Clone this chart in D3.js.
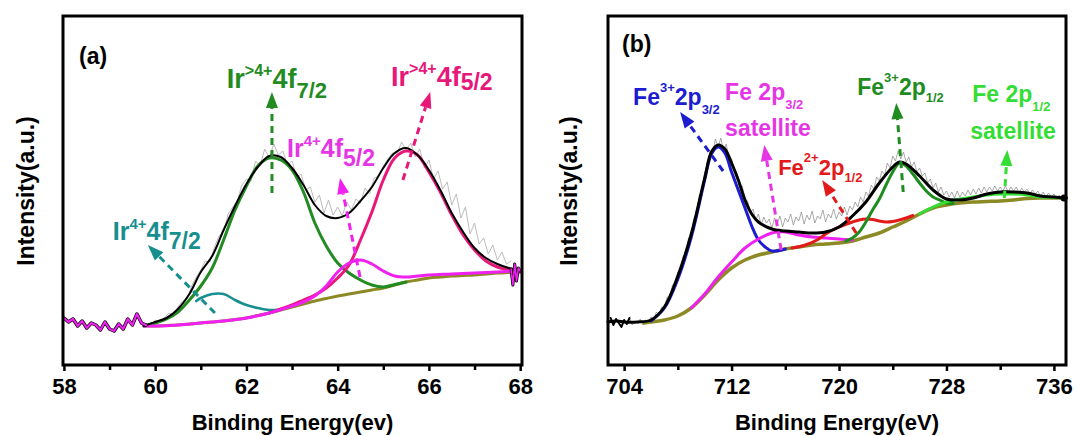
<!DOCTYPE html>
<html><head><meta charset="utf-8">
<title>XPS Ir 4f / Fe 2p</title>
<script src="https://cdn.jsdelivr.net/npm/d3@7/dist/d3.min.js"></script>
<style>
body { margin: 0; background: white; }
svg { display: block; font-family: "Liberation Sans", Arial, sans-serif; font-weight: bold; }
</style>
</head><body>
<svg id="chart" width="1077" height="436"></svg>

<script>
// ---------- panel (a): Ir 4f, intensity in arbitrary units ----------
var ticksA = [58, 60, 62, 64, 66, 68];
var minorA = [59, 61, 63, 65, 67];

var rawA = [
[59.8,41],[59.9,38],[60,45],[60.1,43],[60.2,47],[60.3,52],[60.4,50],[60.5,58],[60.6,64],[60.7,66],
[60.8,79],[60.9,88],[61,95],[61.1,104],[61.2,103],[61.3,118],[61.4,129],[61.5,133],[61.6,151],[61.7,158],
[61.8,164],[61.9,180],[62,186],[62.1,184],[62.2,204],[62.3,199],[62.4,216],[62.5,207],[62.6,221],[62.7,210],
[62.8,214],[62.9,200],[63,204],[63.1,188],[63.2,191],[63.3,175],[63.4,178],[63.5,163],[63.6,170],[63.7,152],
[63.8,165],[63.9,150],[64,158],[64.1,149],[64.2,163],[64.3,155],[64.4,166],[64.5,162],[64.6,177],[64.7,171],
[64.8,187],[64.9,189],[65,199],[65.1,206],[65.2,212],[65.3,211],[65.4,223],[65.5,215],[65.6,222],[65.7,208],
[65.8,216],[65.9,197],[66,205],[66.1,186],[66.2,194],[66.3,176],[66.4,183],[66.5,160],[66.6,171],[66.7,147],
[66.8,158],[66.9,131],[67,142],[67.1,121],[67.2,127],[67.3,111],[67.4,120],[67.5,105],[67.6,113],[67.7,101],
[67.8,104]
];
// raw counts outside the fitted window
var edgeA = [
[58,47],[58.1,43],[58.2,46],[58.3,39],[58.4,44],[58.5,37],[58.6,42],[58.7,40],[58.8,35],[58.9,43],
[59,36],[59.1,34],[59.2,41],[59.3,36],[59.4,46],[59.5,40],[59.6,51],[59.7,42],[59.8,40]
];
var tailA = [[67.8,96],[67.84,80],[67.88,101],[67.92,84],[67.96,97],[68,94]];
var bgA = [
[59.75,39],[60,39],[60.25,39.5],[60.5,40],[60.75,41],[61,42],[61.25,43],[61.5,44],[61.75,45.5],[62,47],
[62.25,49.5],[62.5,52],[62.75,55],[63,58],[63.25,61],[63.5,64],[63.75,66.5],[64,69],[64.25,71],[64.5,73],
[64.75,75],[65,77],[65.25,80],[65.5,83],[65.75,85],[66,87],[66.25,88],[66.5,89],[66.75,89.5],[67,90],
[67.25,91],[67.5,92],[67.75,92.5],[68,93]
];
var ir4f72A = [
[60.9,64],[61,67],[61.25,71],[61.5,71],[61.75,65],[62,60],[62.25,57],[62.5,55],[62.75,55.5]
];
var irHi4f72A = [
[59.75,39],[60,42],[60.25,46],[60.5,53],[60.75,65],[61,79],[61.25,97],[61.5,125],[61.75,155],[62,179],
[62.25,199],[62.5,207],[62.75,205],[63,195],[63.25,173],[63.5,142],[63.75,119],[64,102],[64.25,92],[64.5,85],
[64.75,80],[65,78],[65.25,80.5],[65.5,83]
];
var irHi4f52A = [
[62.5,52],[62.75,56],[63,60],[63.25,65],[63.5,70],[63.75,77],[64,87],[64.25,100],[64.5,125],[64.75,153],
[65,185],[65.25,207],[65.5,214],[65.75,210],[66,193],[66.25,173],[66.5,150],[66.75,130],[67,115],[67.25,104],
[67.5,98],[67.75,95],[68,93]
];
var ir4f52A = [
[59.75,39],[60,39],[60.5,40],[61,42],[61.5,44],[62,47],[62.5,52],[63,59],[63.25,63],[63.5,69],
[63.75,79],[64,93],[64.25,102],[64.5,105],[64.75,101],[65,94],[65.25,89],[65.5,88],[65.75,89],[66,90],
[66.5,91],[67,92],[67.5,93],[68,94]
];
var envA = [
[59.75,39],[60,43],[60.25,47],[60.5,56],[60.75,71],[61,93],[61.25,109],[61.5,135],[61.75,159],[62,181],
[62.25,198],[62.5,209],[62.75,208],[63,197],[63.25,180],[63.5,160],[63.75,149],[64,147],[64.25,152],[64.5,164],
[64.75,178],[65,197],[65.25,212],[65.5,217],[65.75,210],[66,195],[66.25,175],[66.5,152],[66.75,133],[67,117],
[67.25,107],[67.5,101],[67.75,97],[68,95]
];

// ---------- panel (b): Fe 2p ----------
var ticksB = [704, 712, 720, 728, 736];
var minorB = [708, 716, 724, 732];

var rawB = [
[703,47],[703.2,40],[703.4,46],[703.6,42],[703.8,38],[704,45],[704.2,41],[704.4,47],[704.6,40],[704.8,44],
[705,42],[705.2,46],[705.4,40],[705.6,45],[705.8,43],[706,48],[706.2,45],[706.4,53],[706.6,50],[706.8,58],
[707,57],[707.2,68],[707.4,67],[707.6,80],[707.8,81],[708,93],[708.2,95],[708.4,109],[708.6,112],[708.8,127],
[709,129],[709.2,147],[709.4,150],[709.6,170],[709.8,174],[710,193],[710.2,197],[710.4,214],[710.6,213],[710.8,226],
[711,218],[711.2,227],[711.4,214],[711.6,221],[711.8,207],[712,206],[712.2,193],[712.4,192],[712.6,178],[712.8,179],
[713,166],[713.2,164],[713.4,152],[713.6,156],[713.8,145],[714,151],[714.2,140],[714.4,148],[714.6,142],[714.8,146],
[715,137],[715.2,147],[715.4,141],[715.6,149],[715.8,138],[716,147],[716.2,143],[716.4,151],[716.6,140],[716.8,148],
[717,144],[717.2,153],[717.4,141],[717.6,150],[717.8,145],[718,154],[718.2,142],[718.4,149],[718.6,146],[718.8,155],
[719,143],[719.2,151],[719.4,147],[719.6,156],[719.8,146],[720,153],[720.2,149],[720.4,158],[720.6,150],[720.8,159],
[721,155],[721.2,163],[721.4,158],[721.6,168],[721.8,163],[722,173],[722.2,169],[722.4,180],[722.6,176],[722.8,188],
[723,184],[723.2,194],[723.4,190],[723.6,202],[723.8,197],[724,209],[724.2,204],[724.4,214],[724.6,206],[724.8,213],
[725,203],[725.2,208],[725.4,198],[725.6,203],[725.8,193],[726,197],[726.2,189],[726.4,192],[726.6,182],[726.8,186],
[727,177],[727.2,182],[727.4,173],[727.6,178],[727.8,170],[728,174],[728.2,168],[728.4,173],[728.6,167],[728.8,174],
[729,168],[729.2,173],[729.4,169],[729.6,175],[729.8,170],[730,176],[730.2,171],[730.4,177],[730.6,172],[730.8,178],
[731,173],[731.2,178],[731.4,174],[731.6,179],[731.8,174],[732,178],[732.2,174],[732.4,179],[732.6,173],[732.8,178],
[733,174],[733.2,178],[733.4,172],[733.6,177],[733.8,173],[734,176],[734.2,171],[734.4,175],[734.6,171],[734.8,174],
[735,169],[735.2,173],[735.4,168],[735.6,172],[735.8,168],[736,171],[736.2,167],[736.4,170],[736.6,166],[736.8,169]
];
var bgB = [
[705.5,42],[706,43],[707,45],[708,49],[709,57],[710,70],[711,85],[712,97],[713,105],[714,110],
[715,113],[716,116],[717,118],[718,120],[719,121],[720,122],[721,124],[722,128],[723,132],[724,138],
[725,144],[726,151],[727,157],[728,160],[729,162],[730,163],[731,163.5],[732,164],[733,165],[734,166.5],
[735,167],[736,167],[736.9,167]
];
var fe3p32B = [
[706,44],[707,57],[708,86],[709,128],[710,185],[710.5,211],[711,218],[711.5,212],[712,193],[712.5,175],
[713,157],[713.5,139],[714,125],[714.5,118],[715,114],[716,116]
];
var satP32B = [
[709,57],[710,71],[711,88],[712,103],[713,117],[714,126],[715,132],[715.5,133],[716,133],[717,130],
[718,128],[719,127],[720,126],[721,125]
];
var fe2p12B = [
[716.5,117],[717.5,120],[718.5,126],[719,131],[720,138],[721,143],[721.5,145],[722,146],[722.5,145.5],[723,144],
[723.5,143],[724,143.5],[724.5,145],[725,147],[725.5,149.5]
];
var fe3p12B = [
[720.5,124],[721,127],[721.5,133],[722,143],[722.5,155],[723,166],[723.5,180],[724,193],[724.5,202],[725,199],
[725.5,191],[726,182],[726.5,174],[727,168],[727.5,165],[728,162],[728.5,161.5]
];
var satP12B = [
[726,151],[727,158],[728,163],[729,166],[730,168],[731,170],[732,171],[733,171],[734,170],[735,168],
[736,167.5],[736.9,167]
];
var envB = [
[702.8,43],[703.5,44],[704,43],[705,43],[706,45],[707,58],[708,89],[709,131],[710,187],[710.5,213],
[711,220],[711.5,216],[712,202],[712.5,185],[713,165],[713.5,151],[714,143],[715,136],[716,134],[717,133],
[718,132],[719,133],[720,138],[721,149],[722,163],[723,182],[724,198],[724.5,203],[725,201],[726,189],
[727,175],[728,166],[729,165],[730,167],[731,171],[732,173],[733,173],[734,172],[735,169],[736,168],
[736.9,167]
];

// ---------- scales ----------
var svg = d3.select("#chart");
var yS = d3.scaleLinear().domain([0, 349]).range([365, 16]);
var xA = d3.scaleLinear().domain([57.98, 68.04]).range([63, 522]);
var xB = d3.scaleLinear().domain([702.8, 736.9]).range([608, 1066]);

function drawLine(g, x, data, color, width, smooth) {
	var line = d3.line().x(d => x(d[0])).y(d => yS(d[1]));
	if (smooth) line.curve(d3.curveCatmullRom.alpha(0.5));
	g.append("path").datum(data)
		.attr("d", line)
		.attr("fill", "none")
		.attr("stroke", color)
		.attr("stroke-width", width)
		.attr("stroke-linejoin", "round")
		.attr("stroke-linecap", "round");
}

function drawFrame(g, x, ticks, minor, title, ylabX) {
	var r = x.range();
	g.append("rect")
		.attr("x", r[0]).attr("y", yS.range()[1])
		.attr("width", r[1] - r[0]).attr("height", yS.range()[0] - yS.range()[1])
		.attr("fill", "none").attr("stroke", "#000").attr("stroke-width", 3);

	var ax = g.append("g").attr("transform", "translate(0," + yS.range()[0] + ")")
		.call(d3.axisBottom(x).tickValues(ticks).tickSize(6).tickPadding(7).tickFormat(d3.format("d")));
	ax.select(".domain").remove();
	ax.selectAll("line").attr("stroke-width", 2.5);
	ax.selectAll("text").style("font-size", "22px").attr("fill", "#000");

	var mx = g.append("g").attr("transform", "translate(0," + yS.range()[0] + ")")
		.call(d3.axisBottom(x).tickValues(minor).tickSize(5).tickFormat(""));
	mx.select(".domain").remove();
	mx.selectAll("line").attr("stroke-width", 2.5);

	g.append("text")
		.attr("x", (r[0] + r[1]) / 2).attr("y", 430)
		.attr("text-anchor", "middle").style("font-size", "22px")
		.text(title);
	g.append("text")
		.attr("transform", "translate(" + ylabX + ",191) rotate(-90)")
		.attr("text-anchor", "middle").style("font-size", "23px")
		.text("Intensity(a.u.)");
}

// dashed arrow, tail -> tip, in data units
function arrow(g, x, e0, i0, e1, i1, color) {
	var x0 = x(e0), y0 = yS(i0), x1 = x(e1), y1 = yS(i1);
	var dx = x1 - x0, dy = y1 - y0, len = Math.sqrt(dx * dx + dy * dy);
	var ux = dx / len, uy = dy / len, hl = 16, hw = 6;
	var bx = x1 - ux * hl, by = y1 - uy * hl;
	g.append("line")
		.attr("x1", x0).attr("y1", y0).attr("x2", bx).attr("y2", by)
		.attr("stroke", color).attr("stroke-width", 3).attr("stroke-dasharray", "7,5");
	g.append("path")
		.attr("d", "M" + x1 + "," + y1 + "L" + (bx - uy * hw) + "," + (by + ux * hw) +
			"L" + (bx + uy * hw) + "," + (by - ux * hw) + "Z")
		.attr("fill", color);
}

// label made of [text, font size, baseline offset] parts
function label(g, x, e, i, color, parts) {
	var t = g.append("text").attr("x", x(e)).attr("y", yS(i)).attr("fill", color);
	var cur = 0;
	parts.forEach(function(p) {
		var off = p[2] || 0;
		t.append("tspan").attr("dy", off - cur).style("font-size", p[1] + "px").text(p[0]);
		cur = off;
	});
}

// ---------- panel (a) ----------
var gA = svg.append("g");
drawLine(gA, xA, rawA, "#b4b4b4", 0.9, false);
drawLine(gA, xA, bgA, "#8c8a24", 3, true);
drawLine(gA, xA, ir4f72A, "#178f8f", 2.6, true);
drawLine(gA, xA, irHi4f72A, "#228b22", 3, true);
drawLine(gA, xA, irHi4f52A, "#e8177a", 3, true);
drawLine(gA, xA, ir4f52A, "#f020f0", 3, true);
drawLine(gA, xA, envA, "#000", 2, true);
drawLine(gA, xA, edgeA, "#000", 3.5, false);
drawLine(gA, xA, edgeA, "#f020f0", 2.2, false);
drawLine(gA, xA, tailA, "#000", 3, false);
drawLine(gA, xA, tailA, "#f020f0", 1.6, false);
drawFrame(gA, xA, ticksA, minorA, "Binding Energy(ev)", 34);

arrow(gA, xA, 62.56, 172, 62.56, 273, "#228b22");
arrow(gA, xA, 65.43, 185, 66.03, 273, "#e8177a");
arrow(gA, xA, 64.49, 88, 64.05, 187, "#f020f0");
arrow(gA, xA, 61.31, 52, 59.84, 120, "#178f8f");

label(gA, xA, 58.33, 301, "#000", [["(a)", 23]]);
label(gA, xA, 61.57, 277, "#228b22", [["Ir", 27], [">4+", 16, -12], ["4f", 27, 0], ["7/2", 22, 10]]);
label(gA, xA, 65.17, 279, "#e8177a", [["Ir", 27], [">4+", 16, -12], ["4f", 27, 0], ["5/2", 23, 4]]);
label(gA, xA, 62.89, 208, "#e535e5", [["Ir", 25], ["4+", 15, -11], ["4f", 25, 0], ["5/2", 23, 9]]);
label(gA, xA, 59.07, 125, "#178f8f", [["Ir", 25], ["4+", 15, -11], ["4f", 25, 0], ["7/2", 23, 9]]);

// ---------- panel (b) ----------
var gB = svg.append("g");
drawLine(gB, xB, rawB, "#858585", 0.7, false);
drawLine(gB, xB, rawB.slice(0, 8), "#000", 2, false);
drawLine(gB, xB, bgB, "#8c8a24", 3.5, true);
drawLine(gB, xB, fe3p32B, "#1c1cd0", 3, true);
drawLine(gB, xB, satP32B, "#f020f0", 3, true);
drawLine(gB, xB, fe2p12B, "#e31a1a", 3, true);
drawLine(gB, xB, fe3p12B, "#1e8c1e", 3, true);
drawLine(gB, xB, satP12B, "#33dd33", 3, true);
drawLine(gB, xB, envB, "#000", 3, true);
gB.append("circle")
	.attr("cx", xB(envB[envB.length - 1][0]) - 2).attr("cy", yS(envB[envB.length - 1][1]))
	.attr("r", 3.5).attr("fill", "#000");
drawFrame(gB, xB, ticksB, minorB, "Binding Energy(eV)", 577);

arrow(gB, xB, 711.37, 194, 708.17, 253, "#1c1cd0");
arrow(gB, xB, 715.69, 115, 714.43, 220, "#e535e5");
arrow(gB, xB, 721.28, 132, 718.75, 185, "#e31a1a");
arrow(gB, xB, 724.78, 173, 724.26, 262, "#1e8c1e");
arrow(gB, xB, 732.31, 167, 732.53, 215, "#33dd33");

label(gB, xB, 703.85, 313, "#000", [["(b)", 23]]);
label(gB, xB, 704.67, 260, "#1c1cd0", [["Fe", 23], ["3+", 13, -13], ["2p", 23, 0], ["3/2", 13, 9]]);
label(gB, xB, 711.52, 265, "#e535e5", [["Fe 2p", 23], ["3/2", 13, 9]]);
label(gB, xB, 711.52, 229, "#e535e5", [["satellite", 23]]);
label(gB, xB, 721.36, 270, "#1e8c1e", [["Fe", 23], ["3+", 13, -13], ["2p", 23, 0], ["1/2", 13, 7]]);
label(gB, xB, 729.92, 263, "#33dd33", [["Fe 2p", 23], ["1/2", 13, 9]]);
label(gB, xB, 729.77, 226, "#33dd33", [["satellite", 23]]);
label(gB, xB, 715.47, 190, "#e31a1a", [["Fe", 22], ["2+", 13, -13], ["2p", 22, 0], ["1/2", 13, 7]]);
</script>
</body></html>
